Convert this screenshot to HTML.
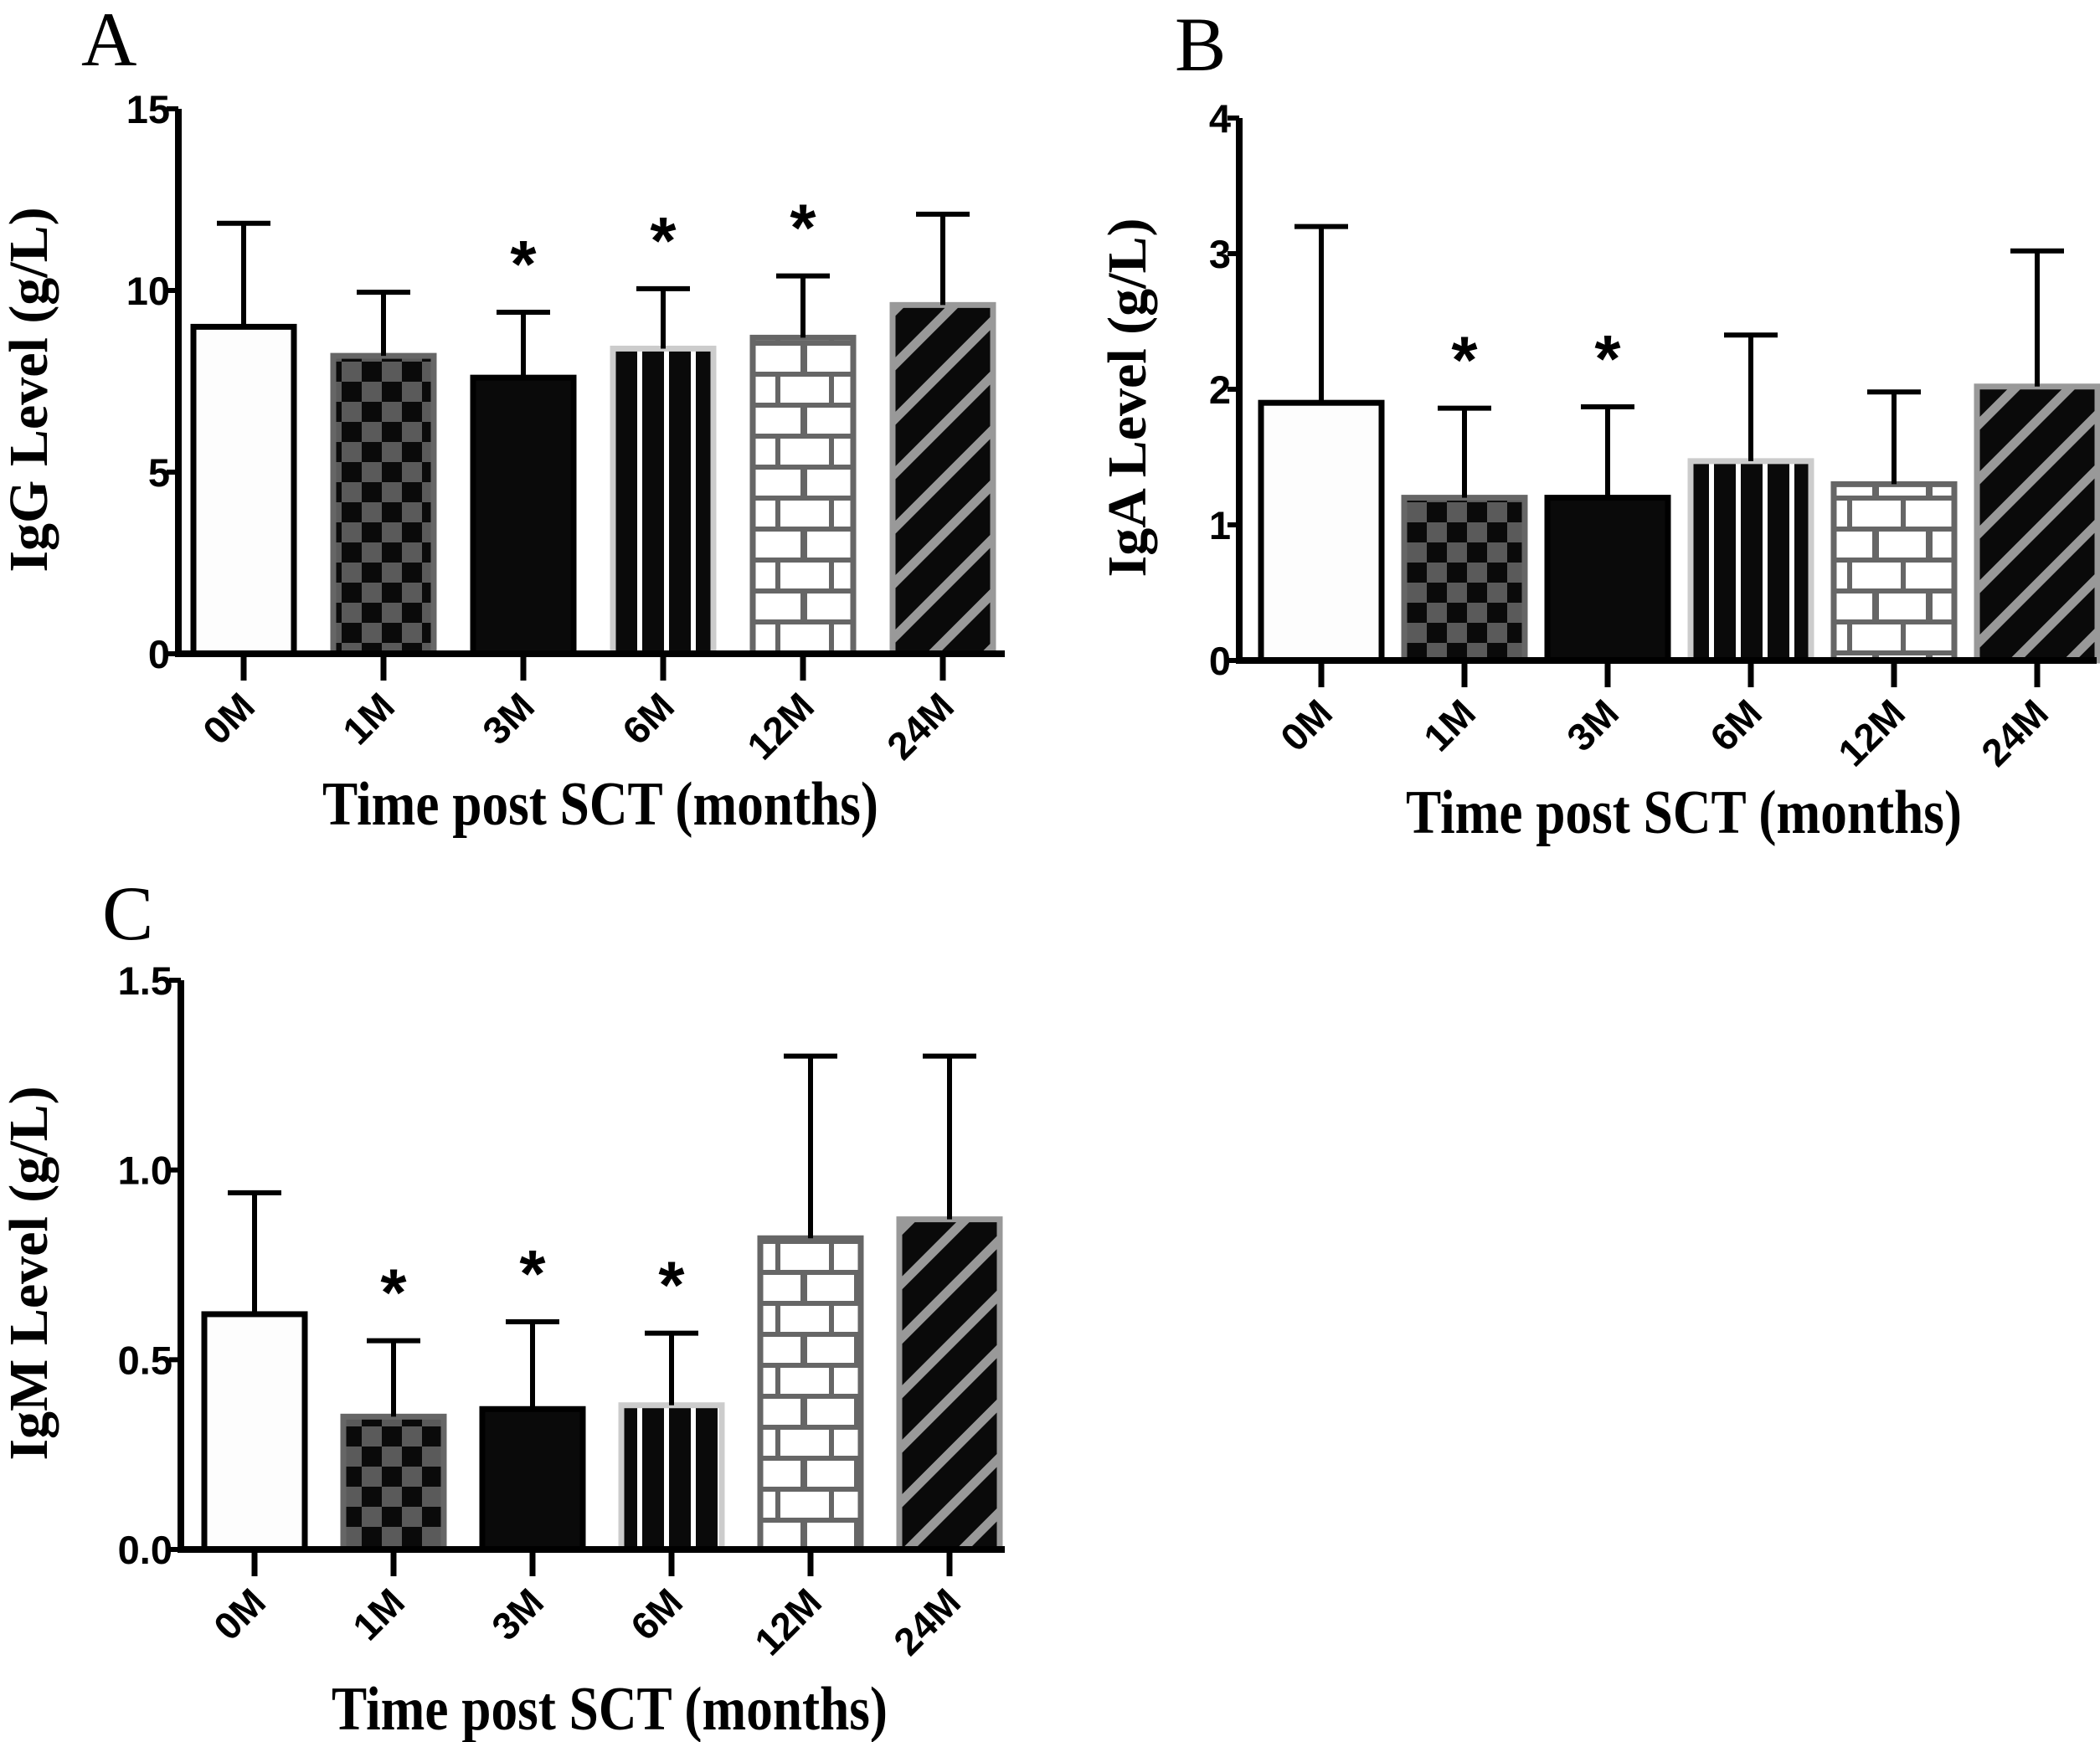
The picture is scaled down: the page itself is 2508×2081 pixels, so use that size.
<!DOCTYPE html>
<html><head><meta charset="utf-8"><style>
html,body{margin:0;padding:0;background:#fff;}
svg{display:block;}
</style></head><body>
<svg id="fig" width="2508" height="2081" viewBox="0 0 2508 2081" xmlns="http://www.w3.org/2000/svg">
<defs>
<pattern id="pCheck" patternUnits="userSpaceOnUse" width="48" height="48"><rect width="48" height="48" fill="#5a5a5a"/><rect width="24" height="24" fill="#0a0a0a"/><rect x="24" y="24" width="24" height="24" fill="#0a0a0a"/></pattern>
<pattern id="pVert" patternUnits="userSpaceOnUse" width="32" height="20"><rect width="32" height="20" fill="#0a0a0a"/><rect x="25" width="6" height="20" fill="#fff"/></pattern>
<pattern id="pBrick" patternUnits="userSpaceOnUse" width="64" height="74"><rect width="64" height="74" fill="#fff"/><rect y="0" width="64" height="6" fill="#666"/><rect y="37" width="64" height="6" fill="#666"/><rect x="30" y="0" width="6" height="37" fill="#666"/><rect x="0" y="37" width="4" height="37" fill="#666"/><rect x="60" y="37" width="4" height="37" fill="#666"/></pattern>
<pattern id="pDiag" patternUnits="userSpaceOnUse" width="46" height="46" patternTransform="rotate(45)"><rect width="46" height="46" fill="#0a0a0a"/><rect width="11" height="46" fill="#999"/></pattern>
</defs>
</svg>
<script>
const categories = ["0M","1M","3M","6M","12M","24M"];
const igGMeans = [9.0, 8.2, 7.6, 8.4, 8.7, 9.6];
const igGUpper = [11.85, 9.95, 9.4, 10.05, 10.4, 12.1];
const igGStars = [false, false, true, true, true, false];
const igGTicks = [0, 5, 10, 15];
const igAMeans = [1.9, 1.2, 1.2, 1.47, 1.3, 2.02];
const igAUpper = [3.2, 1.86, 1.87, 2.4, 1.98, 3.02];
const igAStars = [false, true, true, false, false, false];
const igATicks = [0, 1, 2, 3, 4];
const igMMeans = [0.62, 0.35, 0.37, 0.38, 0.82, 0.87];
const igMUpper = [0.94, 0.55, 0.6, 0.57, 1.3, 1.3];
const igMStars = [false, true, true, true, false, false];
const igMTicks = ["0.0", "0.5", "1.0", "1.5"];

const NS = "http://www.w3.org/2000/svg";
const svg = document.getElementById('fig');
const fills = ["#fdfdfd","url(#pCheck)","#0a0a0a","url(#pVert)","url(#pBrick)","url(#pDiag)"];
const strokes = ["#000","#666","#000","#ccc","#666","#999"];
function mk(tag, attrs, parent){const e=document.createElementNS(NS,tag);for(const k in attrs)e.setAttribute(k,attrs[k]);(parent||svg).appendChild(e);return e;}

function panel(cfg){
  const g = mk('g',{});
  
  
  const y = v => cfg.y0 - v / cfg.ymax * (cfg.y0 - cfg.yTop);
  const x = i => cfg.first + i * cfg.step;
  const L = mk('text',{x:cfg.lx,y:cfg.ly,'font-family':'Liberation Serif, serif','font-size':92},g);
  L.textContent = cfg.letter;
  
  
  categories.forEach((c,i)=>{
    const top = y(cfg.means[i]);
    const b = mk('rect',{x:x(i)-cfg.bw/2,y:top,width:cfg.bw,height:cfg.y0-top,fill:fills[i],stroke:strokes[i],'stroke-width':7},g);
    
    
    const up = y(cfg.upper[i]);
    const e = mk('path',{d:`M${x(i)} ${top} V${up} M${x(i)-32} ${up} H${x(i)+32}`,stroke:'#000','stroke-width':6,fill:'none'},g);
    
    
    if(cfg.stars[i]){
      const s = mk('text',{x:x(i),y:up-30,'text-anchor':'middle','font-family':'Liberation Sans, sans-serif','font-weight':'bold','font-size':80},g);
      s.textContent='*';
      
      
    }
    const t = mk('line',{x1:x(i),x2:x(i),y1:cfg.y0,y2:cfg.y0+32,stroke:'#000','stroke-width':7},g);
    
    
    const lx = x(i)+16, ly = cfg.y0+66;
    const tl = mk('text',{x:lx,y:ly,'text-anchor':'end','font-family':'Liberation Sans, sans-serif','font-weight':'bold','font-size':46,transform:`rotate(-45 ${lx} ${ly})`},g);
    tl.textContent=c;
    
    
  });
  const ax = mk('path',{d:`M${cfg.x0} ${cfg.yTop} V${cfg.y0} H${cfg.xEnd}`,stroke:'#000','stroke-width':8,fill:'none'},g);
  
  
  cfg.ticks.forEach(tv=>{
    const v = parseFloat(tv), yy = y(v);
    const tk = mk('line',{x1:cfg.x0-14,x2:cfg.x0,y1:yy,y2:yy,stroke:'#000','stroke-width':6},g);
    
    
    const tt = mk('text',{x:cfg.x0-10,y:yy+17,'text-anchor':'end','font-family':'Liberation Sans, sans-serif','font-weight':'bold','font-size':47},g);
    tt.textContent = String(tv);
    
    
  });
  const yc = (cfg.y0+cfg.yTop)/2 + 10;
  const yt = mk('text',{x:cfg.ytx,y:yc,'text-anchor':'middle','font-family':'Liberation Serif, serif','font-weight':'bold','font-size':66,transform:`rotate(-90 ${cfg.ytx} ${yc})`},g);
  yt.textContent = cfg.ytitle;
  
  
  const xt = mk('text',{x:cfg.xtx,y:cfg.xty,'text-anchor':'middle','font-family':'Liberation Serif, serif','font-weight':'bold','font-size':74,textLength:664,lengthAdjust:'spacingAndGlyphs'},g);
  xt.textContent = 'Time post SCT (months)';
  
  
}

panel({name:'panel-a-igg',letter:'A',lx:97,ly:78,x0:213,y0:781,yTop:130,ymax:15,xEnd:1200,first:291,step:167,bw:120,
  means:igGMeans,upper:igGUpper,stars:igGStars,ticks:igGTicks,ytitle:'IgG  Level (g/L)',ytx:56,xtx:717,xty:985});
panel({name:'panel-b-iga',letter:'B',lx:1403,ly:84,x0:1480,y0:789,yTop:141,ymax:4,xEnd:2504,first:1578,step:171,bw:144,
  means:igAMeans,upper:igAUpper,stars:igAStars,ticks:igATicks,ytitle:'IgA  Level (g/L)',ytx:1368,xtx:2011,xty:995});
panel({name:'panel-c-igm',letter:'C',lx:122,ly:1122,x0:216,y0:1851,yTop:1171,ymax:1.5,xEnd:1200,first:304,step:166,bw:120,
  means:igMMeans,upper:igMUpper,stars:igMStars,ticks:igMTicks,ytitle:'IgM  Level (g/L)',ytx:56,xtx:728,xty:2066});
</script>
</body></html>
